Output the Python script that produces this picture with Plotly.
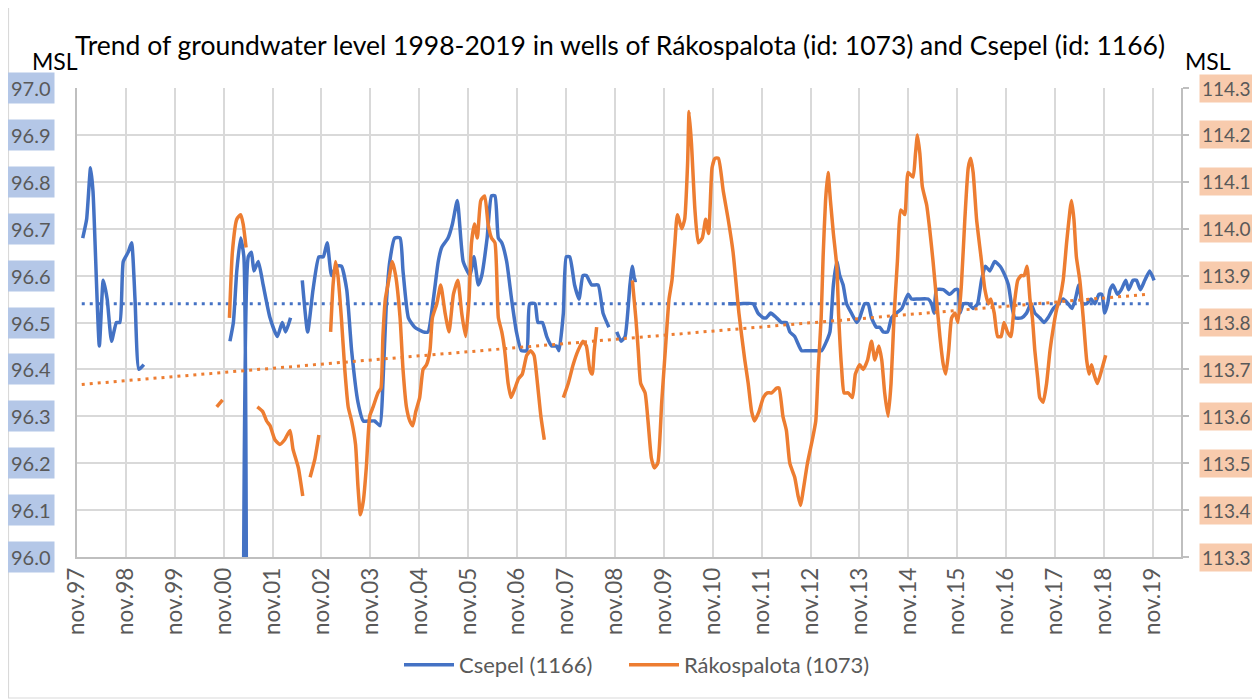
import plotly.graph_objects as go
from datetime import datetime

# ---------------- data (decimal years, levels in m a.s.l.) ----------------
csepel_years = [
    1997.95, 1998.03, 1998.11, 1998.16, 1998.29, 1998.37, 1998.45, 1998.54, 1998.64, 1998.71,
    1998.78, 1998.88, 1998.95, 1999.02, 1999.10, 1999.20,
    None,
    2000.96, 2001.03, 2001.10, 2001.18, 2001.245, 2001.29, 2001.335, 2001.40, 2001.45, 2001.54,
    2001.64, 2001.78, 2001.93, 2002.03, 2002.10, 2002.20,
    None,
    2002.44, 2002.55, 2002.66, 2002.78, 2002.87, 2002.95, 2003.04, 2003.14, 2003.24, 2003.35,
    2003.45, 2003.58, 2003.69, 2003.82, 2003.92, 2004.03, 2004.09, 2004.16, 2004.23, 2004.33,
    2004.44, 2004.50, 2004.61, 2004.74, 2004.91, 2005.01, 2005.12, 2005.22, 2005.29, 2005.42,
    2005.51, 2005.61, 2005.73, 2005.87, 2005.95, 2006.04, 2006.11, 2006.22, 2006.31, 2006.38,
    2006.45, 2006.52, 2006.62, 2006.72, 2006.82, 2006.92, 2007.03, 2007.09, 2007.20, 2007.26,
    2007.35, 2007.44, 2007.54, 2007.64, 2007.69, 2007.78, 2007.84, 2007.91, 2008.01, 2008.10,
    2008.18, 2008.25, 2008.36, 2008.49, 2008.59, 2008.71,
    None,
    2008.87, 2008.96, 2009.04, 2009.14, 2009.19, 2009.24, 2009.28,
    None,
    2011.15, 2011.40, 2011.66, 2011.76, 2011.87, 2011.93, 2012.02, 2012.14, 2012.24, 2012.34,
    2012.41, 2012.51, 2012.65, 2012.75, 2012.92, 2013.06, 2013.16, 2013.23, 2013.30, 2013.37,
    2013.43, 2013.50, 2013.57, 2013.67, 2013.78, 2013.84, 2013.94, 2014.01, 2014.08, 2014.18,
    2014.25, 2014.32, 2014.41, 2014.49, 2014.59, 2014.70, 2014.83, 2014.90, 2015.03, 2015.24,
    2015.31, 2015.36, 2015.41, 2015.55, 2015.68, 2015.79, 2015.85, 2015.89, 2015.96, 2016.06,
    2016.16, 2016.25, 2016.33, 2016.41, 2016.50, 2016.60, 2016.71, 2016.81, 2016.88, 2016.94,
    2017.01, 2017.15, 2017.25, 2017.34, 2017.42, 2017.52, 2017.61, 2017.69, 2017.80, 2017.90,
    2018.00, 2018.10, 2018.18, 2018.25, 2018.32, 2018.39, 2018.48, 2018.57, 2018.65, 2018.73,
    2018.79, 2018.85, 2018.91, 2018.96, 2019.02, 2019.11, 2019.19, 2019.28, 2019.34, 2019.43,
    2019.50, 2019.58, 2019.67, 2019.77, 2019.86,
]
csepel_levels = [
    96.68, 96.72, 96.83, 96.78, 96.45, 96.59, 96.55, 96.46, 96.50, 96.50,
    96.63, 96.65, 96.67, 96.55, 96.40, 96.41,
    None,
    96.46, 96.50, 96.61, 96.68, 96.64, 90.00, 96.64, 96.65, 96.61, 96.63,
    96.58, 96.51, 96.47, 96.50, 96.48, 96.51,
    None,
    96.59, 96.48, 96.57, 96.64, 96.64, 96.67, 96.60, 96.62, 96.62, 96.57,
    96.44, 96.33, 96.29, 96.29, 96.29, 96.28, 96.37, 96.54, 96.63, 96.68,
    96.68, 96.61, 96.51, 96.49, 96.48, 96.48, 96.55, 96.63, 96.66, 96.68,
    96.71, 96.76, 96.63, 96.60, 96.64, 96.58, 96.60, 96.68, 96.77, 96.77,
    96.68, 96.67, 96.63, 96.55, 96.48, 96.44, 96.44, 96.54, 96.54, 96.50,
    96.50, 96.47, 96.45, 96.45, 96.44, 96.52, 96.64, 96.64, 96.58, 96.55,
    96.60, 96.60, 96.58, 96.58, 96.52, 96.49,
    None,
    96.48, 96.46, 96.47, 96.58, 96.62, 96.59, 96.59,
    None,
    96.54, 96.54, 96.54, 96.52, 96.51, 96.51, 96.52, 96.51, 96.50, 96.50,
    96.48, 96.47, 96.44, 96.44, 96.44, 96.44, 96.46, 96.48, 96.58, 96.63,
    96.60, 96.58, 96.54, 96.52, 96.50, 96.51, 96.54, 96.54, 96.51, 96.49,
    96.49, 96.48, 96.48, 96.51, 96.52, 96.53, 96.56, 96.55, 96.55, 96.55,
    96.54, 96.52, 96.57, 96.57, 96.56, 96.57, 96.57, 96.52, 96.54, 96.54,
    96.53, 96.54, 96.59, 96.62, 96.61, 96.63, 96.62, 96.60, 96.58, 96.54,
    96.51, 96.51, 96.52, 96.54, 96.52, 96.51, 96.50, 96.51, 96.53, 96.54,
    96.55, 96.54, 96.53, 96.55, 96.58, 96.54, 96.54, 96.55, 96.54, 96.56,
    96.56, 96.52, 96.54, 96.57, 96.58, 96.56, 96.57, 96.59, 96.57, 96.59,
    96.59, 96.57, 96.59, 96.61, 96.59,
]

rakos_years = [
    2000.69, 2000.81,
    None,
    2000.95, 2001.01, 2001.10, 2001.18, 2001.23, 2001.29,
    None,
    2001.52, 2001.63, 2001.71, 2001.78, 2001.88, 2001.98, 2002.08, 2002.19, 2002.25, 2002.36,
    2002.45,
    None,
    2002.60, 2002.70, 2002.78,
    None,
    2003.02, 2003.07, 2003.12, 2003.17, 2003.24, 2003.31, 2003.38, 2003.45, 2003.53, 2003.58,
    2003.63, 2003.69, 2003.75, 2003.82, 2003.89, 2003.99, 2004.05, 2004.09, 2004.14, 2004.21,
    2004.28, 2004.35, 2004.44, 2004.50, 2004.57, 2004.64, 2004.70, 2004.76, 2004.84, 2004.91,
    2004.98, 2005.05, 2005.10, 2005.19, 2005.27, 2005.36, 2005.44, 2005.53, 2005.62, 2005.70,
    2005.78, 2005.85, 2005.90, 2005.96, 2006.02, 2006.09, 2006.17, 2006.24, 2006.31, 2006.38,
    2006.45, 2006.52, 2006.58, 2006.65, 2006.71, 2006.79, 2006.86, 2006.94, 2007.03, 2007.11,
    2007.18, 2007.25, 2007.32, 2007.39,
    None,
    2007.78, 2007.88, 2007.98, 2008.08, 2008.18, 2008.25, 2008.32, 2008.37, 2008.41, 2008.46,
    None,
    2009.19, 2009.26, 2009.31, 2009.36, 2009.45, 2009.51, 2009.58, 2009.64, 2009.71, 2009.79,
    2009.87, 2009.94, 2010.00, 2010.06, 2010.11, 2010.20, 2010.26, 2010.32, 2010.35, 2010.40,
    2010.47, 2010.54, 2010.62, 2010.69, 2010.75, 2010.82, 2010.88, 2010.95, 2011.05, 2011.15,
    2011.25, 2011.37, 2011.49, 2011.56, 2011.63, 2011.69, 2011.78, 2011.87, 2011.95, 2012.04,
    2012.14, 2012.19, 2012.27, 2012.34, 2012.41, 2012.51, 2012.58, 2012.63, 2012.68, 2012.77,
    2012.87, 2012.94, 2012.99, 2013.05, 2013.09, 2013.14, 2013.19, 2013.24, 2013.30, 2013.37,
    2013.41, 2013.47, 2013.52, 2013.60, 2013.69, 2013.75, 2013.84, 2013.91, 2014.00, 2014.08,
    2014.15, 2014.23, 2014.29, 2014.35, 2014.42, 2014.48, 2014.54, 2014.61, 2014.68, 2014.76,
    2014.83, 2014.93, 2014.98, 2015.02, 2015.07, 2015.12, 2015.21, 2015.27, 2015.34, 2015.41,
    2015.48, 2015.55, 2015.60, 2015.66, 2015.72, 2015.79, 2015.85, 2015.92, 2015.99, 2016.06,
    2016.11, 2016.16, 2016.23, 2016.32, 2016.40, 2016.47, 2016.52, 2016.59, 2016.66, 2016.73,
    2016.79, 2016.86, 2016.93, 2017.00, 2017.07, 2017.14, 2017.20, 2017.26, 2017.32, 2017.37,
    2017.42, 2017.48, 2017.52, 2017.59, 2017.66, 2017.73, 2017.80, 2017.87, 2017.93, 2018.00,
    2018.07, 2018.14, 2018.17, 2018.22, 2018.27, 2018.34, 2018.41, 2018.48, 2018.53, 2018.58,
    2018.63, 2018.70, 2018.79, 2018.87,
]
rakos_levels = [
    113.62, 113.635,
    None,
    113.81, 113.95, 114.02, 114.03, 114.01, 113.96,
    None,
    113.62, 113.61, 113.59, 113.58, 113.55, 113.54, 113.55, 113.57, 113.53, 113.49,
    113.43,
    None,
    113.47, 113.51, 113.56,
    None,
    113.78, 113.88, 113.93, 113.90, 113.81, 113.70, 113.62, 113.59, 113.54, 113.45,
    113.39, 113.42, 113.49, 113.60, 113.62, 113.65, 113.66, 113.77, 113.85, 113.89,
    113.93, 113.90, 113.81, 113.70, 113.62, 113.59, 113.58, 113.61, 113.64, 113.70,
    113.71, 113.74, 113.81, 113.84, 113.88, 113.82, 113.78, 113.86, 113.89, 113.82,
    113.77, 113.85, 113.97, 114.01, 113.98, 114.06, 114.07, 114.01, 113.98, 113.97,
    113.81, 113.78, 113.74, 113.67, 113.64, 113.66, 113.68, 113.69, 113.73, 113.74,
    113.73, 113.67, 113.60, 113.55,
    None,
    113.64, 113.67, 113.71, 113.74, 113.76, 113.75, 113.70, 113.69, 113.74, 113.79,
    None,
    113.89, 113.81, 113.74, 113.67, 113.65, 113.59, 113.51, 113.49, 113.50, 113.63,
    113.75, 113.85, 113.89, 113.97, 114.03, 114.00, 114.02, 114.14, 114.25, 114.18,
    114.04, 113.97, 113.98, 114.02, 113.99, 114.13, 114.15, 114.15, 114.08, 114.02,
    113.95, 113.82, 113.72, 113.67, 113.61, 113.59, 113.61, 113.64, 113.65, 113.65,
    113.66, 113.66, 113.60, 113.57, 113.50, 113.47, 113.43, 113.41, 113.44, 113.50,
    113.55, 113.59, 113.70, 113.81, 113.94, 114.06, 114.12, 114.06, 113.99, 113.92,
    113.81, 113.70, 113.65, 113.65, 113.64, 113.69, 113.71, 113.70, 113.72, 113.76,
    113.72, 113.75, 113.72, 113.65, 113.60, 113.67, 113.81, 113.93, 114.04, 114.03,
    114.12, 114.11, 114.16, 114.20, 114.16, 114.09, 114.05, 114.00, 113.93, 113.85,
    113.77, 113.71, 113.69, 113.74, 113.81, 113.82, 113.80, 113.88, 114.02, 114.13,
    114.15, 114.12, 114.02, 113.94, 113.87, 113.84, 113.85, 113.82, 113.77, 113.77,
    113.80, 113.78, 113.77, 113.84, 113.89, 113.90, 113.90, 113.92, 113.85, 113.81,
    113.74, 113.68, 113.64, 113.63, 113.67, 113.74, 113.79, 113.83, 113.85, 113.89,
    113.97, 114.04, 114.06, 114.02, 113.94, 113.89, 113.81, 113.72, 113.69, 113.71,
    113.69, 113.67, 113.70, 113.73,
]

# linear trend lines (start / end)
csepel_trend_years = [1997.93, 2019.83]
csepel_trend_levels = [96.54, 96.54]
rakos_trend_years = [1997.93, 2019.72]
rakos_trend_levels = [113.668, 113.86]

# axis tick labels
x_tick_years = list(range(1997, 2020))
x_tick_labels = ["nov.97", "nov.98", "nov.99", "nov.00", "nov.01", "nov.02", "nov.03",
                 "nov.04", "nov.05", "nov.06", "nov.07", "nov.08", "nov.09", "nov.10",
                 "nov.11", "nov.12", "nov.13", "nov.14", "nov.15", "nov.16", "nov.17",
                 "nov.18", "nov.19"]
left_tick_labels = ["96.0", "96.1", "96.2", "96.3", "96.4", "96.5", "96.6", "96.7", "96.8", "96.9", "97.0"]
right_tick_labels = ["113.3", "113.4", "113.5", "113.6", "113.7", "113.8", "113.9", "114.0", "114.1", "114.2", "114.3"]

TITLE = "Trend of groundwater level 1998-2019 in wells of Rákospalota (id: 1073) and Csepel (id: 1166)"


def to_date(v):
    if v is None:
        return None
    y = int(v)
    start = datetime(y, 1, 1)
    end = datetime(y + 1, 1, 1)
    return start + (end - start) * (v - y)


BLUE = "#4472C4"
ORANGE = "#ED7D31"
GRID = "#D9D9D9"
AXIS = "#BFBFBF"
LABEL = "#595959"
FONT = "Lato"

# figure is drawn inside an 8px page margin
W, H = 1252, 692
PL, PT, PW, PH = 77, 88, 1104, 469   # plot area in page pixels


def px(xp):
    return (xp - PL) / PW


def py(yp):
    return (PT + PH - yp) / PH


fig = go.Figure()

fig.add_trace(go.Scatter(
    x=[to_date(v) for v in csepel_years], y=csepel_levels, name="Csepel (1166)",
    mode="lines", line=dict(color=BLUE, width=3.5, shape="spline", smoothing=0.5),
    connectgaps=False, yaxis="y", legend="legend"))
fig.add_trace(go.Scatter(
    x=[to_date(v) for v in rakos_years], y=rakos_levels, name="Rákospalota (1073)",
    mode="lines", line=dict(color=ORANGE, width=3.5, shape="spline", smoothing=0.5),
    connectgaps=False, yaxis="y2", legend="legend2"))
fig.add_trace(go.Scatter(
    x=[to_date(v) for v in csepel_trend_years], y=csepel_trend_levels, mode="lines",
    line=dict(color=BLUE, width=3, dash="3px,5px"), showlegend=False, yaxis="y",
    hoverinfo="skip"))
fig.add_trace(go.Scatter(
    x=[to_date(v) for v in rakos_trend_years], y=rakos_trend_levels, mode="lines",
    line=dict(color=ORANGE, width=3, dash="3px,5px"), showlegend=False, yaxis="y2",
    hoverinfo="skip"))

annotations = []
for t in left_tick_labels:
    annotations.append(dict(
        x=px(55), xref="paper", y=float(t), yref="y", text=t, showarrow=False,
        xanchor="right", yanchor="middle", bgcolor="#B4C7E7", borderpad=3,
        font=dict(family=FONT, size=20, color=LABEL)))
for t in right_tick_labels:
    annotations.append(dict(
        x=px(1199), xref="paper", y=float(t), yref="y2", text=t, showarrow=False,
        xanchor="left", yanchor="middle", bgcolor="#F8CBAD", borderpad=2,
        font=dict(family=FONT, size=19, color=LABEL)))
annotations.append(dict(x=px(30), xref="paper", y=py(61), yref="paper",
                        text="MSL", showarrow=False, xanchor="left", yanchor="middle",
                        font=dict(family=FONT, size=23, color="#000000")))
annotations.append(dict(x=px(1183), xref="paper", y=py(61), yref="paper",
                        text="MSL", showarrow=False, xanchor="left", yanchor="middle",
                        font=dict(family=FONT, size=23, color="#000000")))

legend_style = dict(orientation="h", xanchor="left", y=py(665), yanchor="middle",
                    font=dict(family=FONT, size=22, color=LABEL), itemwidth=50,
                    bgcolor="rgba(0,0,0,0)")

fig.update_layout(
    width=W, height=H,
    margin=dict(l=PL - 8, r=W - (PL - 8 + PW), t=PT - 8, b=H - (PT - 8 + PH)),
    paper_bgcolor="white", plot_bgcolor="white",
    font=dict(family=FONT, color=LABEL),
    title=dict(text=TITLE, x=(620 - 8) / W, xref="container", xanchor="center",
               y=1 - (46 - 8) / H, yref="container", yanchor="middle",
               font=dict(family=FONT, size=26.5, color="#000000")),
    xaxis=dict(
        type="date", range=[datetime(1997, 11, 1), datetime(2020, 5, 30)],
        tickvals=[datetime(y, 11, 1) for y in x_tick_years], ticktext=x_tick_labels,
        tickangle=-90, tickfont=dict(family=FONT, size=22.5, color=LABEL),
        showgrid=True, gridcolor=GRID, gridwidth=1.5,
        showline=True, linecolor=AXIS, linewidth=1.5, ticks="", zeroline=False),
    yaxis=dict(
        range=[96.0, 97.0], dtick=0.1, tick0=96.0, showticklabels=False,
        showgrid=True, gridcolor=GRID, gridwidth=1.5,
        showline=True, linecolor=AXIS, linewidth=1.5, zeroline=False, ticks=""),
    yaxis2=dict(
        range=[113.3, 114.3], dtick=0.1, tick0=113.3, overlaying="y", side="right",
        showticklabels=False, showgrid=False, showline=True, linecolor=AXIS,
        linewidth=1.5, ticks="outside", ticklen=6, tickcolor=AXIS, tickwidth=1.5,
        zeroline=False),
    legend=dict(x=px(399), **legend_style),
    legend2=dict(x=px(624), **legend_style),
    annotations=annotations,
    shapes=[dict(type="rect", xref="paper", yref="paper",
                 x0=px(8.5), x1=px(1258), y0=py(698), y1=py(-5),
                 line=dict(color=GRID, width=1.2), fillcolor="rgba(0,0,0,0)", layer="below")],
    showlegend=True,
)

fig.write_html("out.html")
